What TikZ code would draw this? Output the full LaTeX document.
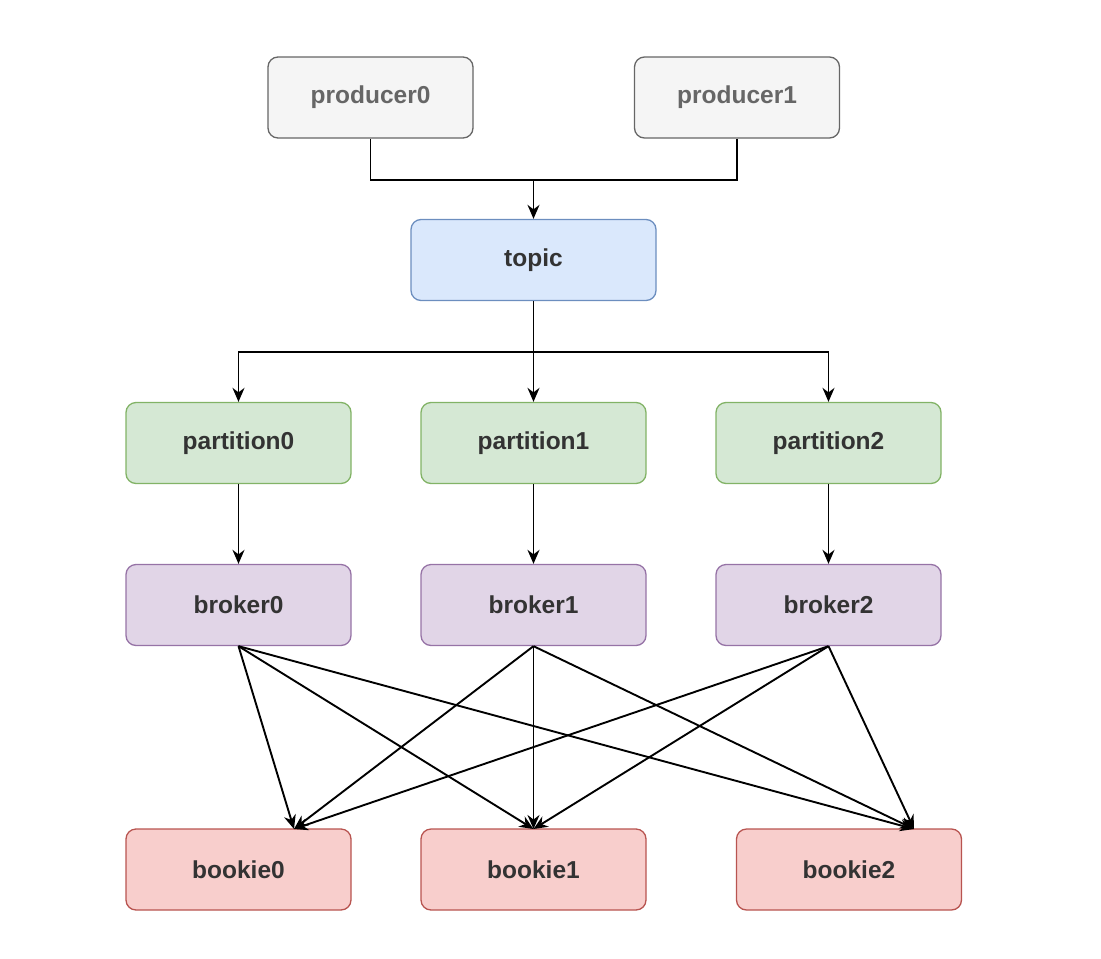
\documentclass[tikz,border=0pt]{standalone}
\usepackage{fontspec}
\setmainfont{Liberation Sans}
\usetikzlibrary{arrows.meta}
\definecolor{prodfill}{HTML}{F5F5F5}\definecolor{proddraw}{HTML}{666666}
\definecolor{topicfill}{HTML}{DAE8FC}\definecolor{topicdraw}{HTML}{6C8EBF}
\definecolor{partfill}{HTML}{D5E8D4}\definecolor{partdraw}{HTML}{82B366}
\definecolor{brokfill}{HTML}{E1D5E7}\definecolor{brokdraw}{HTML}{9673A6}
\definecolor{bookfill}{HTML}{F8CECC}\definecolor{bookdraw}{HTML}{B85450}
\definecolor{labeltext}{HTML}{333333}
\begin{document}
\begin{tikzpicture}[x=1pt, y=-1pt, >={Stealth[length=14pt,width=12pt]},
  box/.style={draw, rounded corners=10pt, line width=1.3pt, minimum height=81pt,
    minimum width=225pt, align=center, text=labeltext,
    font=\fontsize{24.5}{28}\selectfont\bfseries},
  prodbox/.style={box, fill=prodfill, draw=proddraw, minimum width=205pt, text=proddraw},
  topicbox/.style={box, fill=topicfill, draw=topicdraw, minimum width=245pt},
  partbox/.style={box, fill=partfill, draw=partdraw},
  brokbox/.style={box, fill=brokfill, draw=brokdraw},
  bookbox/.style={box, fill=bookfill, draw=bookdraw},
  link/.style={line width=1.9pt}]
\useasboundingbox (0,0) rectangle (1101,959);
\node[prodbox] (p0) at (370.5,97.5) {producer0};
\node[prodbox] (p1) at (737,97.5) {producer1};
\node[topicbox] (topic) at (533.5,260) {topic};
\node[partbox] (part0) at (238.5,443) {partition0};
\node[partbox] (part1) at (533.5,443) {partition1};
\node[partbox] (part2) at (828.5,443) {partition2};
\node[brokbox] (brok0) at (238.5,605) {broker0};
\node[brokbox] (brok1) at (533.5,605) {broker1};
\node[brokbox] (brok2) at (828.5,605) {broker2};
\node[bookbox] (book0) at (238.5,869.5) {bookie0};
\node[bookbox] (book1) at (533.5,869.5) {bookie1};
\node[bookbox] (book2) at (849,869.5) {bookie2};
% where the broker lines land
\coordinate (in0) at (294,829);
\coordinate (in1) at (533.5,829);
\coordinate (in2) at (914,829);
\draw[link] (p0.south) |- (533.5,180);
\draw[link,->] (p1.south) |- (533.5,180) -- (topic.north);
\draw[link] (topic.south) -- (533.5,352);
\draw[link,->] (533.5,352) -| (part0.north);
\draw[link,->] (533.5,352) -| (part2.north);
\draw[link,->] (533.5,352) -- (part1.north);
\draw[link,->] (part0) -- (brok0);
\draw[link,->] (part1) -- (brok1);
\draw[link,->] (part2) -- (brok2);
\foreach \b in {0,1,2}{
  \foreach \k in {0,1,2}{
    \draw[link,->] (brok\b.south) -- (in\k);
  }
}
\end{tikzpicture}
\end{document}
